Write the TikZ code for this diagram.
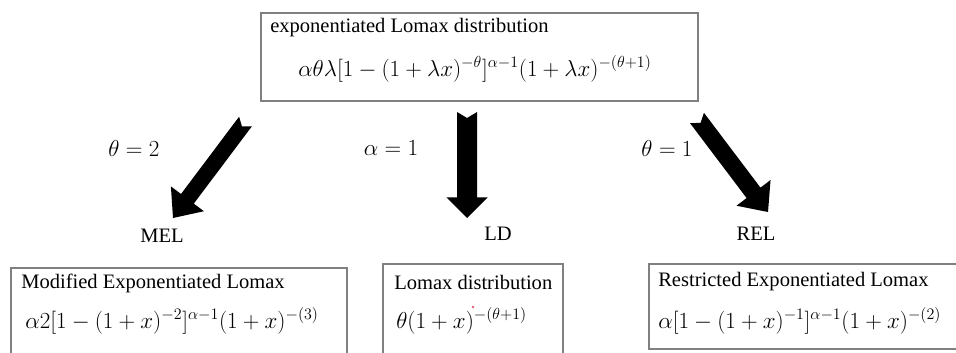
\documentclass[tikz,border=0pt]{standalone}
\usepackage{fontspec}
\setmainfont{Liberation Serif}
\newfontfamily\timesfont{Liberation Serif}
\usetikzlibrary{calc}
\definecolor{boxgray}{RGB}{128,128,128}
\definecolor{dotpink}{RGB}{230,90,120}
\newcommand\blockarrowfill[6]{%
  \coordinate (nk) at ($(#2)!#5!(#1)$);
  \coordinate (t1) at ($(#1)!#3!90:(#2)$);
  \coordinate (t2) at ($(#1)!#3!-90:(#2)$);
  \coordinate (n1) at ($(nk)!#3!-90:(#1)$);
  \coordinate (h1) at ($(nk)!#4!-90:(#1)$);
  \coordinate (h2) at ($(nk)!#4!90:(#1)$);
  \coordinate (n2) at ($(nk)!#3!90:(#1)$);
  \coordinate (nt) at ($(#1)!#6!(#2)$);
  \fill[black] (t1) -- (n1) -- (h1) -- (#2) -- (h2) -- (n2) -- (t2) -- (nt) -- cycle;
}
\begin{document}
\begin{tikzpicture}[x=0.75pt,y=-0.75pt,
  frame/.style={draw=boxgray, line width=0.9pt, inner sep=0pt},
  txt/.style={anchor=west, inner sep=0pt, font=\timesfont\fontsize{15.4}{18}\selectfont},
  mth/.style={anchor=west, inner sep=0pt, font=\timesfont\fontsize{17.8}{21}\selectfont},
  lbl/.style={inner sep=0pt, font=\timesfont\fontsize{15.4}{18}\selectfont},
  mlbl/.style={inner sep=0pt, font=\timesfont\fontsize{18.3}{22}\selectfont}]
\useasboundingbox (0,0) rectangle (956,353);
\clip (0,0) rectangle (956,353);
% boxes
\node[frame, minimum width=327.75pt, minimum height=66pt] (top) at (479.5,57) {};
\node[frame, minimum width=252pt, minimum height=72pt] (mel) at (179,316) {};
\node[frame, minimum width=135pt, minimum height=70.5pt] (ld) at (473,311) {};
\node[frame, minimum width=237.75pt, minimum height=63.75pt] (rel) at (807.5,306.5) {};
% texts
\node[txt] (toptitle) at (270,28) {exponentiated Lomax distribution};
\node[mth] (topform) at (298,69) {$\alpha\theta\lambda[1-(1+\lambda x)^{-\theta}]^{\alpha-1}(1+\lambda x)^{-(\theta+1)}$};
\node[txt] (meltitle) at (21,283) {Modified Exponentiated Lomax};
\node[mth] (melform) at (25,321) {$\alpha2[1-(1+x)^{-2}]^{\alpha-1}(1+x)^{-(3)}$};
\node[txt] (ldtitle) at (394,282) {Lomax distribution};
\node[mth] (ldform) at (396,321) {$\theta(1+x)^{-(\theta+1)}$};
\node[txt] (reltitle) at (658,282) {Restricted Exponentiated Lomax};
\node[mth] (relform) at (658,321) {$\alpha[1-(1+x)^{-1}]^{\alpha-1}(1+x)^{-(2)}$};
\fill[dotpink] (473,307) circle (1.1pt);
% labels
\node[mlbl] (c1) at (134,148) {$\theta = 2$};
\node[mlbl] (c2) at (391,148) {$\alpha = 1$};
\node[mlbl] (c3) at (667,148) {$\theta = 1$};
\node[lbl] (mell) at (162,236) {MEL};
\node[lbl] (ldl) at (498,234) {LD};
\node[lbl] (rell) at (756,234) {REL};
% arrows
\coordinate (a1s) at (245.5,121.5);
\coordinate (a1e) at (173,218);
\coordinate (a2s) at (467,112);
\coordinate (a2e) at (467,218);
\coordinate (a3s) at (697,118);
\coordinate (a3e) at (768,212);
\blockarrowfill{a1s}{a1e}{6pt}{15.5pt}{18pt}{4.5pt}
\blockarrowfill{a2s}{a2e}{7.5pt}{15.5pt}{15.5pt}{4.5pt}
\blockarrowfill{a3s}{a3e}{6.5pt}{16pt}{18pt}{4.5pt}
\end{tikzpicture}
\end{document}
